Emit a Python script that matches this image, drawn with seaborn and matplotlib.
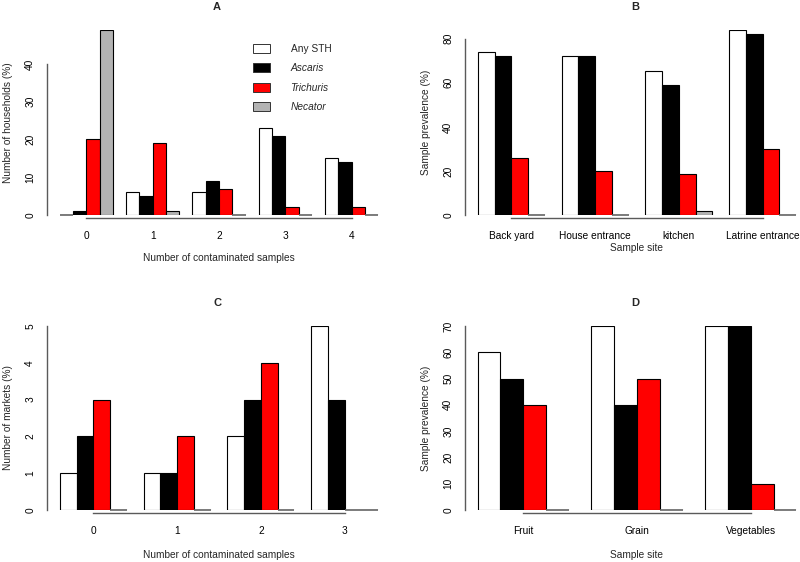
import pandas as pd
import numpy as np
import matplotlib
matplotlib.use("Agg")
import matplotlib.pyplot as plt
from matplotlib.patches import Patch
import seaborn as sns

# Species (legend order) and their fill colours
species = ["Any STH", "Ascaris", "Trichuris", "Necator"]
colors = ["white", "black", "#ff0000", "#b3b3b3"]

# Panel A: households by number of contaminated samples
a_groups = ["0", "1", "2", "3", "4"]
a_any = [0, 6, 6, 23, 15]
a_ascaris = [1, 5, 9, 21, 14]
a_trichuris = [20, 19, 7, 2, 2]
a_necator = [49, 1, 0, 0, 0]

# Panel B: sample prevalence by household sample site
b_groups = ["Back yard", "House entrance", "kitchen", "Latrine entrance"]
b_any = [74, 72, 65.3, 84]
b_ascaris = [72, 72, 59, 82]
b_trichuris = [26, 20, 18.5, 30]
b_necator = [0, 0, 2, 0]

# Panel C: markets by number of contaminated samples
c_groups = ["0", "1", "2", "3"]
c_any = [1, 1, 2, 5]
c_ascaris = [2, 1, 3, 3]
c_trichuris = [3, 2, 4, 0]
c_necator = [0, 0, 0, 0]

# Panel D: sample prevalence by market sample type
d_groups = ["Fruit", "Grain", "Vegetables"]
d_any = [60, 70, 70]
d_ascaris = [50, 40, 70]
d_trichuris = [40, 50, 10]
d_necator = [0, 0, 0]

sns.set_theme(style="white")
plt.rcParams["font.family"] = ["Liberation Sans", "DejaVu Sans"]
plt.rcParams["font.size"] = 7

W, H = 800, 562
AXIS_GREY = "#5a5a5a"


def make_df(groups, *series):
    rows = []
    for sp, vals in zip(species, series):
        for g, v in zip(groups, vals):
            rows.append({"group": g, "species": sp, "value": v})
    return pd.DataFrame(rows)


def fig_xy(x, y):
    return x / W, 1 - y / H


def panel(fig, left, top, bottom, groups, series, yticks, title,
          xlabel, ylabel, xlabel_y):
    width = 344
    ax = fig.add_axes([left / W, 1 - bottom / H, width / W, (bottom - top) / H])
    df = make_df(groups, *series)
    sns.barplot(data=df, x="group", y="value", hue="species",
                order=groups, hue_order=species, palette=colors,
                saturation=1, width=0.8, edgecolor="black", linewidth=0.8,
                legend=False, errorbar=None, ax=ax)
    # zero-height bars: R still draws their outline as a flat line
    for p in ax.patches:
        if p.get_height() == 0:
            ax.hlines(0, p.get_x(), p.get_x() + p.get_width(),
                      color="#666666", linewidth=1.2, clip_on=False, zorder=3)

    n = len(groups)
    span = n - 0.2
    ax.set_xlim(-0.4 - 0.04 * span, n - 0.6 + 0.04 * span)
    ymax = max(max(s) for s in series)
    ax.set_ylim(0, ymax)

    for s in ["top", "right"]:
        ax.spines[s].set_visible(False)
    for s in ["left", "bottom"]:
        ax.spines[s].set_color(AXIS_GREY)
        ax.spines[s].set_linewidth(1.0)
    ax.spines["bottom"].set_position(("outward", 2))
    ax.spines["bottom"].set_bounds(0, n - 1)
    ax.spines["left"].set_bounds(yticks[0], yticks[-1])

    ax.set_xticks(range(n))
    ax.set_xticklabels(groups)
    ax.set_yticks(yticks)
    ax.set_yticklabels([str(t) for t in yticks], rotation=90, va="center")
    ax.tick_params(axis="both", direction="out", length=5, width=1.0,
                   color=AXIS_GREY, labelsize=7.3, colors="black")
    ax.tick_params(axis="x", pad=4.5)
    ax.tick_params(axis="y", pad=3.5)
    ax.tick_params(axis="both", color=AXIS_GREY)
    ax.set_xlabel("")
    ax.set_ylabel("")

    cx = left + width / 2
    fig.text(*fig_xy(cx - 2, top - 23), title, ha="center", va="center",
             fontsize=8, fontweight="bold")
    fig.text(*fig_xy(cx, xlabel_y), xlabel, ha="center", va="center",
             fontsize=7.3)
    fig.text(*fig_xy(left - 39, (top + bottom) / 2), ylabel, ha="center",
             va="center", rotation=90, fontsize=7.3)
    return ax


fig = plt.figure(figsize=(W / 100, H / 100), dpi=100)

ax_a = panel(fig, 47, 30, 215, a_groups,
             [a_any, a_ascaris, a_trichuris, a_necator],
             [0, 10, 20, 30, 40], "A",
             "Number of contaminated samples", "Number of households (%)", 258)

panel(fig, 465, 30, 215, b_groups,
      [b_any, b_ascaris, b_trichuris, b_necator],
      [0, 20, 40, 60, 80], "B",
      "Sample site", "Sample prevalence (%)", 248)

panel(fig, 47, 326, 510, c_groups,
      [c_any, c_ascaris, c_trichuris, c_necator],
      [0, 1, 2, 3, 4, 5], "C",
      "Number of contaminated samples", "Number of markets (%)", 555)

panel(fig, 465, 326, 510, d_groups,
      [d_any, d_ascaris, d_trichuris, d_necator],
      [0, 10, 20, 30, 40, 50, 60, 70], "D",
      "Sample site", "Sample prevalence (%)", 555)

handles = [Patch(facecolor=c, edgecolor="#333333", linewidth=0.7) for c in colors]
leg = ax_a.legend(handles, species, loc="upper left",
                  bbox_to_anchor=fig_xy(253, 44), bbox_transform=fig.transFigure,
                  frameon=False, fontsize=7.3, handlelength=1.7,
                  handleheight=0.95, handletextpad=2.0, labelspacing=0.92,
                  borderpad=0, borderaxespad=0)
for t in leg.get_texts()[1:]:
    t.set_style("italic")

fig.savefig("out.png", dpi=100)
